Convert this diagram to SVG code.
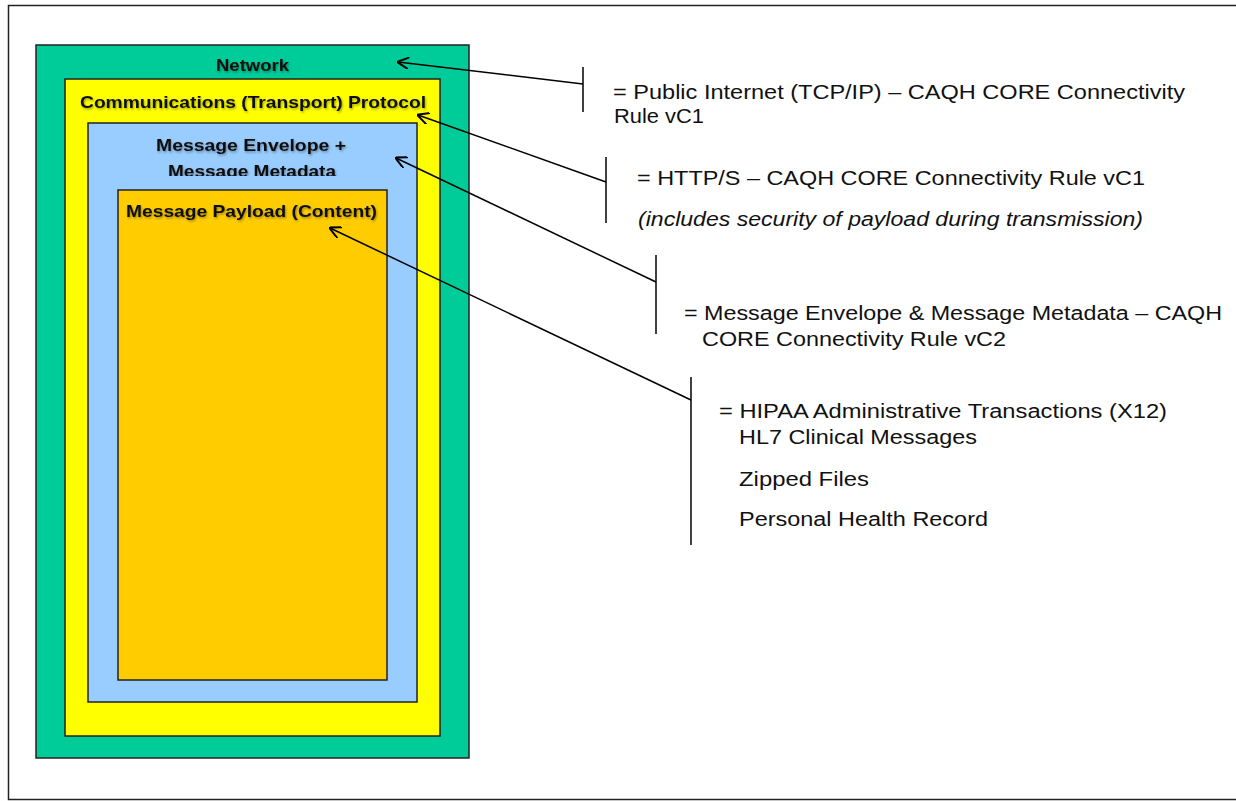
<svg xmlns="http://www.w3.org/2000/svg" width="1236" height="801" viewBox="0 0 1236 801">
<defs>
<style>
.box{stroke:#222;stroke-width:1.5}
.lbl{font-family:"Liberation Sans",Arial,sans-serif;font-weight:bold;font-size:16.5px;fill:#111;text-anchor:middle}
.note{font-family:"Liberation Sans",Arial,sans-serif;font-size:20px;fill:#111}
.con{stroke:#000;stroke-width:1.5;fill:none}
</style>
<filter id="sh" x="-5%" y="-20%" width="110%" height="150%"><feDropShadow dx="1" dy="1.5" stdDeviation="0.8" flood-color="#000" flood-opacity="0.35"/></filter>
<marker id="ah" viewBox="0 0 12 12" refX="11" refY="6" markerWidth="12" markerHeight="12" markerUnits="userSpaceOnUse" orient="auto">
<path d="M0,0 L12,6 L0,12" fill="none" stroke="#000" stroke-width="2"/>
</marker>
<clipPath id="envclip"><rect x="88" y="123" width="329" height="53"/></clipPath>
</defs>
<rect x="0" y="0" width="1236" height="801" fill="#fff"/>
<rect x="8.5" y="5.5" width="1240" height="794" fill="none" stroke="#222" stroke-width="1.5"/>
<g id="network"><rect class="box" x="36" y="45" width="433" height="713" fill="#00CC99"/><text class="lbl" x="252.5" y="71" textLength="73" lengthAdjust="spacingAndGlyphs" filter="url(#sh)">Network</text></g>
<g id="protocol"><rect class="box" x="65" y="79" width="375" height="657" fill="#FFFF00"/><text class="lbl" x="253" y="108" textLength="346" lengthAdjust="spacingAndGlyphs" filter="url(#sh)">Communications  (Transport) Protocol</text></g>
<g id="envelope"><rect class="box" x="88" y="123" width="329" height="579" fill="#99CCFF"/><text class="lbl" x="251" y="151" textLength="190" lengthAdjust="spacingAndGlyphs" filter="url(#sh)">Message  Envelope  +</text><g clip-path="url(#envclip)"><text class="lbl" x="252" y="177" textLength="168" lengthAdjust="spacingAndGlyphs" filter="url(#sh)">Message  Metadata</text></g></g>
<g id="payload"><rect class="box" x="118" y="190" width="269" height="490" fill="#FFCC00"/><text class="lbl" x="251.5" y="217" textLength="251" lengthAdjust="spacingAndGlyphs" filter="url(#sh)">Message  Payload  (Content)</text></g>
<g id="connectors">
<line class="con" x1="583" y1="84" x2="398" y2="62" marker-end="url(#ah)"/><line class="con" x1="583" y1="67" x2="583" y2="112"/>
<line class="con" x1="606" y1="182" x2="418" y2="115" marker-end="url(#ah)"/><line class="con" x1="606" y1="157" x2="606" y2="223"/>
<line class="con" x1="656" y1="282" x2="396" y2="158" marker-end="url(#ah)"/><line class="con" x1="656" y1="255" x2="656" y2="334"/>
<line class="con" x1="691" y1="400" x2="330" y2="228" marker-end="url(#ah)"/><line class="con" x1="691" y1="377" x2="691" y2="545"/>
</g>
<g id="notes">
<text class="note" x="613" y="99" textLength="572" lengthAdjust="spacingAndGlyphs">= Public Internet (TCP/IP)  – CAQH CORE Connectivity</text>
<text class="note" x="614" y="123" textLength="90" lengthAdjust="spacingAndGlyphs">Rule vC1</text>
<text class="note" x="637" y="185" textLength="508" lengthAdjust="spacingAndGlyphs">= HTTP/S  – CAQH  CORE  Connectivity Rule vC1</text>
<text class="note" x="638" y="226" font-style="italic" textLength="505" lengthAdjust="spacingAndGlyphs">(includes  security  of payload  during  transmission)</text>
<text class="note" x="684" y="320" textLength="538" lengthAdjust="spacingAndGlyphs">= Message  Envelope &amp; Message  Metadata  – CAQH</text>
<text class="note" x="702" y="346" textLength="304" lengthAdjust="spacingAndGlyphs">CORE  Connectivity Rule vC2</text>
<text class="note" x="719" y="418" textLength="448" lengthAdjust="spacingAndGlyphs">= HIPAA  Administrative Transactions (X12)</text>
<text class="note" x="739" y="444" textLength="238" lengthAdjust="spacingAndGlyphs">HL7 Clinical Messages</text>
<text class="note" x="739" y="486" textLength="130" lengthAdjust="spacingAndGlyphs">Zipped Files</text>
<text class="note" x="739" y="526" textLength="249" lengthAdjust="spacingAndGlyphs">Personal  Health Record</text>
</g>
</svg>
